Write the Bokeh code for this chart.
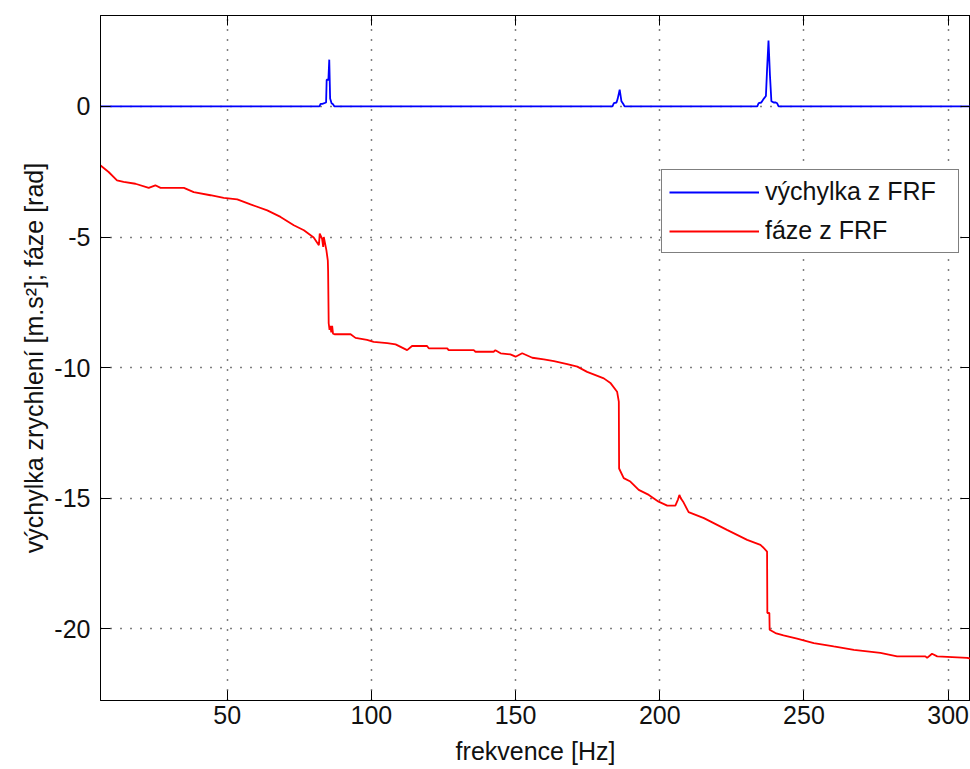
from bokeh.plotting import figure
from bokeh.models import LinearAxis, FixedTicker, Legend, LegendItem, Range1d
from bokeh.embed import file_html
from bokeh.resources import INLINE

# ---- data ----
x_ticks = [50, 100, 150, 200, 250, 300]
y_ticks = [-20, -15, -10, -5, 0]

blue_f = [6.1, 82.0, 82.4, 83.0, 84.3, 84.5, 85.1, 85.4, 85.7, 86.2, 86.7, 87.2,
          183.6, 184.1, 185.0, 185.4, 186.1, 186.7, 187.3, 187.8,
          233.8, 234.3, 235.2, 236.1, 236.8, 237.2, 237.7, 238.2, 238.7, 239.5, 240.2, 240.7, 241.2, 308.4]
blue_v = [0, 0, 0.1, 0.1, 0.15, 1.02, 1.02, 1.79, 0.3, 0.12, 0.08, 0,
          0, 0.13, 0.15, 0.29, 0.64, 0.2, 0.1, 0,
          0, 0.13, 0.15, 0.3, 0.4, 1.4, 2.52, 1.2, 0.2, 0.15, 0.15, 0.12, 0, 0]

red_f = [6.1, 8.9, 11.8, 14.1, 18.2, 22.8, 25.1, 26.9, 35.0, 38.4, 44.2, 48.8, 53.5, 58.1,
         63.9, 68.5, 73.1, 76.6, 80.0, 81.8, 82.1, 82.9, 83.3, 83.5, 84.4, 84.9, 85.0, 85.2,
         85.5, 85.8, 86.1, 86.4, 86.7, 87.2, 88.1, 92.8, 94.5, 98.5, 100.8, 105.5, 108.4,
         112.4, 114.1, 119.3, 119.9, 126.3, 126.8, 135.5, 136.1, 142.4, 143.0, 144.8, 148.2,
         150.0, 152.3, 155.8, 159.8, 163.3, 167.9, 171.4, 174.8, 180.6, 183.0, 185.2, 185.8,
         185.9, 187.5, 189.8, 192.7, 196.2, 199.6, 202.6, 205.4, 206.3, 206.8, 207.3, 208.1,
         210.0, 215.3, 223.3, 230.3, 234.9, 236.1, 237.2, 237.3, 238.0, 238.1, 240.1, 242.9,
         247.6, 253.4, 260.3, 267.3, 276.5, 282.3, 292.1, 292.7, 294.4, 296.2, 306.6, 308.4]
red_v = [-2.26, -2.51, -2.83, -2.89, -2.96, -3.12, -3.02, -3.12, -3.12, -3.28, -3.40, -3.50, -3.56, -3.75,
         -3.98, -4.23, -4.55, -4.74, -5.02, -5.31, -4.87, -5.06, -5.38, -5.00, -5.50, -5.90, -6.30, -8.30,
         -8.55, -8.40, -8.65, -8.40, -8.70, -8.72, -8.72, -8.72, -8.86, -8.94, -9.01, -9.06, -9.11,
         -9.33, -9.17, -9.17, -9.26, -9.26, -9.33, -9.33, -9.39, -9.39, -9.33, -9.45, -9.49,
         -9.58, -9.45, -9.62, -9.68, -9.75, -9.86, -9.96, -10.16, -10.41, -10.60, -10.92, -11.30,
         -13.86, -14.23, -14.36, -14.68, -14.87, -15.13, -15.28, -15.28, -15.05, -14.87, -15.00, -15.13,
         -15.53, -15.76, -16.21, -16.59, -16.78, -16.91, -17.04, -19.39, -19.39, -20.03, -20.16, -20.25,
         -20.37, -20.54, -20.67, -20.80, -20.92, -21.05, -21.05, -21.11, -20.95, -21.05, -21.11, -21.15]

legend_labels = ["výchylka z FRF", "fáze z FRF"]
x_label = "frekvence [Hz]"
y_label = "výchylka zrychlení [m.s²]; fáze [rad]"

FONT = "Liberation Sans"
FS = "25px"
TXT = "#111111"

p = figure(width=970, height=769, x_range=Range1d(6.08, 307.74), y_range=Range1d(-22.74, 3.48),
           output_backend="svg", toolbar_location=None,
           min_border_left=100, min_border_top=15, min_border_bottom=69, min_border_right=0)
p.background_fill_color = "white"
p.border_fill_color = "white"
p.outline_line_color = "black"
p.outline_line_width = 1

r1 = p.line(blue_f, blue_v, line_color="#0000ff", line_width=1.8)
r2 = p.line(red_f, red_v, line_color="#ff0000", line_width=1.8)

xt = FixedTicker(ticks=x_ticks, minor_ticks=[])
yt = FixedTicker(ticks=y_ticks, minor_ticks=[])

main_x = p.xaxis[0]
main_y = p.yaxis[0]
main_x.ticker = xt
main_x.axis_label = x_label
main_x.major_label_standoff = 5
main_x.axis_label_standoff = 10
main_y.ticker = yt
main_y.axis_label = y_label
main_y.major_label_standoff = 10
main_y.axis_label_standoff = 3
main_y.major_label_overrides = {t: str(t) for t in y_ticks}

top = LinearAxis(ticker=xt, major_label_standoff=0)
right = LinearAxis(ticker=yt, major_label_standoff=0)
p.add_layout(top, "above")
p.add_layout(right, "right")

for ax in (main_x, main_y, top, right):
    ax.axis_line_color = "black"
    ax.axis_line_width = 1
    ax.major_tick_line_color = "black"
    ax.major_tick_in = 10
    ax.major_tick_out = 0
    ax.minor_tick_line_color = None
    ax.major_label_text_font = FONT
    ax.axis_label_text_font = FONT
    ax.axis_label_text_font_size = FS
    ax.axis_label_text_font_style = "normal"
    ax.axis_label_text_color = TXT

for ax in (main_x, main_y):
    ax.major_label_text_font_size = FS
    ax.major_label_text_color = TXT
for ax in (top, right):
    ax.major_label_text_font_size = "1px"
    ax.major_label_text_color = None

p.xgrid.ticker = xt
p.ygrid.ticker = yt
for g in (p.xgrid, p.ygrid):
    g.grid_line_color = "black"
    g.grid_line_dash = "1 9"
    g.grid_line_width = 1.5

legend = Legend(items=[LegendItem(label=legend_labels[0], renderers=[r1]),
                       LegendItem(label=legend_labels[1], renderers=[r2])],
                location=(561, 447))
legend.label_text_font = FONT
legend.label_text_font_size = FS
legend.label_text_color = TXT
legend.border_line_color = "black"
legend.border_line_width = 1
legend.background_fill_color = "white"
legend.background_fill_alpha = 1
legend.padding = 7
legend.margin = 0
legend.spacing = 10
legend.glyph_width = 90
legend.glyph_height = 28
legend.label_height = 28
legend.label_width = 186
legend.label_standoff = 6
p.add_layout(legend, "center")

open("out.html", "w").write(file_html(p, INLINE))
